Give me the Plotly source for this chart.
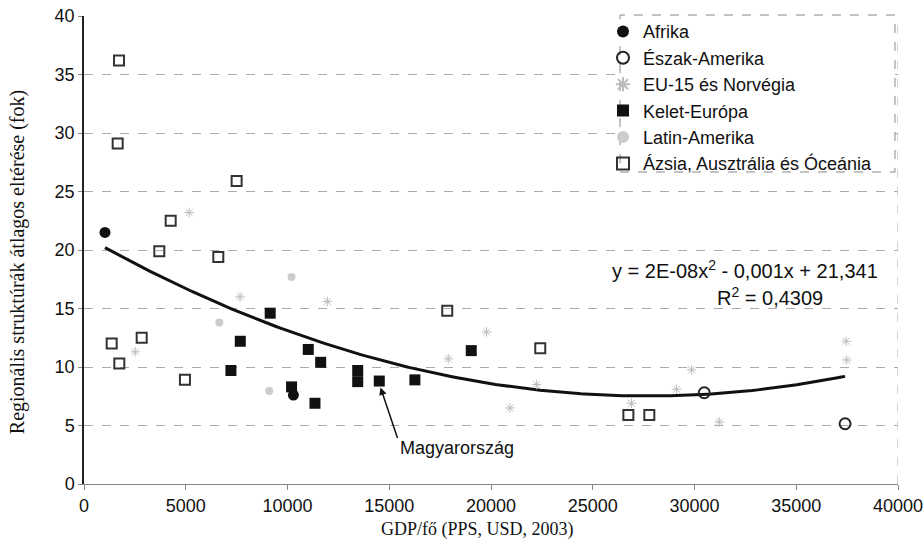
import numpy as np
import plotly.graph_objects as go

# ---- data ----
afrika_x = [1030, 10290]
afrika_y = [21.5, 7.6]

eszak_x = [30480, 37400]
eszak_y = [7.8, 5.15]

eu_x = [5170, 7670, 2520, 11960, 19780, 17900, 22240, 20930, 29860, 29120, 31220, 26900, 37450, 37480]
eu_y = [23.2, 16.0, 11.3, 15.6, 13.0, 10.7, 8.5, 6.5, 9.75, 8.1, 5.3, 6.9, 12.2, 10.6]

kelet_x = [9150, 7680, 7220, 11020, 11630, 13450, 13450, 14510, 16260, 10200, 11350, 19030]
kelet_y = [14.6, 12.2, 9.7, 11.5, 10.4, 9.7, 8.75, 8.8, 8.9, 8.3, 6.9, 11.4]

latin_x = [10200, 9100, 6650]
latin_y = [17.7, 7.95, 13.8]

azsia_x = [1720, 1655, 7500, 4260, 3700, 6600, 2835, 1360, 1735, 4960, 17850, 22420, 26750, 27780]
azsia_y = [36.2, 29.1, 25.9, 22.5, 19.9, 19.4, 12.5, 12.0, 10.3, 8.9, 14.8, 11.6, 5.9, 5.9]

# polynomial trendline (coefficients as drawn)
trend_coef = [1.7846e-8, -9.8825e-4, 21.199]
trend_range = [1030, 37400]

hu_x, hu_y = 14510, 8.8

x_ticks = [0, 5000, 10000, 15000, 20000, 25000, 30000, 35000, 40000]
y_ticks = [0, 5, 10, 15, 20, 25, 30, 35, 40]

SANS = "Liberation Sans, Arial, sans-serif"
SERIF = "Liberation Serif, Times New Roman, serif"

fig = go.Figure()

tx = np.linspace(trend_range[0], trend_range[1], 200)
ty = np.polyval(trend_coef, tx)
fig.add_trace(go.Scatter(x=tx, y=ty, mode="lines", line=dict(color="#111", width=3),
                         showlegend=False, hoverinfo="skip"))

fig.add_trace(go.Scatter(x=afrika_x, y=afrika_y, mode="markers", name="Afrika",
                         marker=dict(symbol="circle", size=11, color="#111")))
fig.add_trace(go.Scatter(x=eszak_x, y=eszak_y, mode="markers", name="Észak-Amerika",
                         marker=dict(symbol="circle-open", size=11, color="#222", line=dict(width=2))))
fig.add_trace(go.Scatter(x=eu_x, y=eu_y, mode="markers", name="EU-15 és Norvégia",
                         marker=dict(symbol="asterisk-open", size=8, color="#bbb", line=dict(width=1, color="#bbb"))))
fig.add_trace(go.Scatter(x=kelet_x, y=kelet_y, mode="markers", name="Kelet-Európa",
                         marker=dict(symbol="square", size=11, color="#111")))
fig.add_trace(go.Scatter(x=latin_x, y=latin_y, mode="markers", name="Latin-Amerika",
                         marker=dict(symbol="circle", size=8, color="#ccc")))
fig.add_trace(go.Scatter(x=azsia_x, y=azsia_y, mode="markers", name="Ázsia, Ausztrália és Óceánia",
                         marker=dict(symbol="square-open", size=10, color="#333", line=dict(width=2))))

fig.update_layout(
    width=924, height=550,
    margin=dict(l=84, r=26, t=16, b=66),
    paper_bgcolor="white", plot_bgcolor="white",
    font=dict(family=SANS, size=18, color="#111"),
    legend=dict(x=0.6376, y=1.006, xanchor="left", yanchor="top",
                bgcolor="rgba(0,0,0,0)", borderwidth=0,
                font=dict(family=SANS, size=18), tracegroupgap=0, itemsizing="constant",
                itemwidth=30),
    xaxis=dict(range=[0, 40000], tickvals=x_ticks, ticktext=[str(v) for v in x_ticks],
               showgrid=False, zeroline=False, showline=True, linecolor="#888", linewidth=1,
               ticks="outside", ticklen=5, tickcolor="#888", automargin=False,
               tickfont=dict(family=SANS, size=18)),
    yaxis=dict(range=[0, 40], tickvals=y_ticks, showgrid=True, gridcolor="#aaa", griddash="dash",
               gridwidth=1, zeroline=False, showline=True, linecolor="#222", linewidth=1.5,
               ticks="outside", ticklen=4, tickcolor="#888", automargin=False,
               tickfont=dict(family=SANS, size=18)),
)

# legend box (white, dashed border) drawn as a shape
fig.add_shape(type="rect", xref="paper", yref="paper", x0=0.6585, x1=0.9963, y0=0.6667, y1=1.0021,
              fillcolor="white", line=dict(color="#888", width=1, dash="dash"), layer="above")

# axis titles placed as in the reference
fig.add_annotation(x=0.484, y=-0.098, xref="paper", yref="paper", showarrow=False,
                   text="GDP/fő (PPS, USD, 2003)", font=dict(family=SERIF, size=18),
                   xanchor="center", yanchor="middle")
fig.add_annotation(x=-0.0823, y=0.474, xref="paper", yref="paper", showarrow=False,
                   text="Regionális struktúrák átlagos eltérése (fok)", textangle=-90,
                   font=dict(family=SERIF, size=20), xanchor="center", yanchor="middle")

# right border of the plot area (dashed)
fig.add_shape(type="line", xref="x", yref="y", x0=40000, x1=40000, y0=0, y1=40,
              line=dict(color="#aaa", width=1, dash="dash"))

# equation labels
fig.add_annotation(x=32480, y=18.3, xref="x", yref="y", showarrow=False,
                   text="y = 2E-08x<sup>2</sup> - 0,001x + 21,341", font=dict(family=SANS, size=20))
fig.add_annotation(x=33710, y=16.0, xref="x", yref="y", showarrow=False,
                   text="R<sup>2</sup> = 0,4309", font=dict(family=SANS, size=20))

# Hungary arrow and label
fig.add_annotation(x=hu_x + 60, y=hu_y - 0.55, xref="x", yref="y",
                   ax=15430, ay=3.8, axref="x", ayref="y", text="",
                   showarrow=True, arrowhead=2, arrowsize=1, arrowwidth=1.5, arrowcolor="#111")
fig.add_annotation(x=18330, y=3.1, xref="x", yref="y", showarrow=False,
                   text="Magyarország", font=dict(family=SANS, size=18))

fig.write_html("out.html", config={"displayModeBar": False},
               post_script="document.body.style.margin='0';document.body.style.overflow='hidden';")
